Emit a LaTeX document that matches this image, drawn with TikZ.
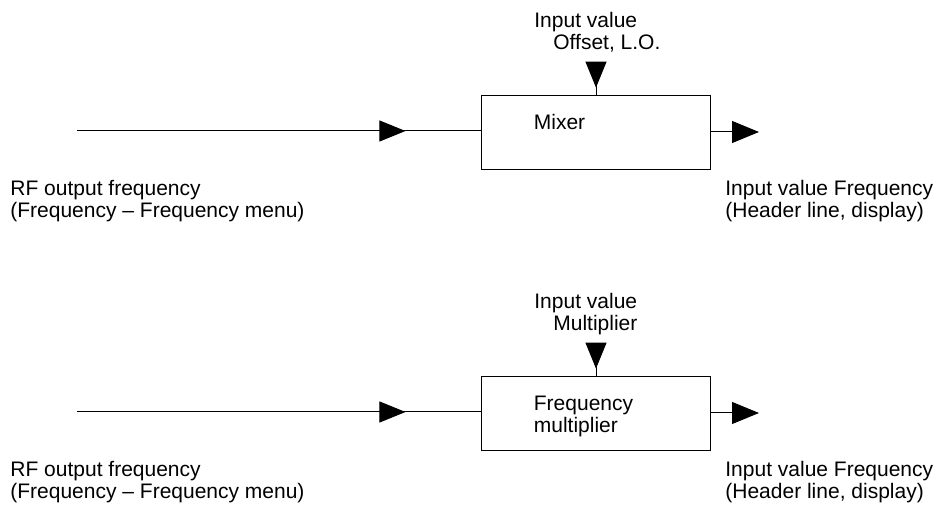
\documentclass[tikz,border=0pt]{standalone}
\usepackage{fontspec}
\setmainfont{Liberation Sans}
\usetikzlibrary{positioning, arrows.meta, decorations.markings}

\tikzset{
  blk/.style={draw, line width=0.5pt, minimum width=114.5pt, minimum height=37pt, inner sep=0pt},
  lbl/.style={inner sep=0pt, align=left, anchor=north west, font=\fontsize{10.5}{11}\selectfont},
  wire/.style={line width=0.5pt},
  outarrow/.style={-{Triangle[length=13.5pt, width=11pt]}},
  midtip/.style={postaction={decorate}, decoration={markings,
      mark=at position #1 with {\arrow{Triangle[length=13pt, width=10.5pt]}}}},
}

\begin{document}
\begin{tikzpicture}[x=0.5pt, y=-0.5pt]
  \useasboundingbox (0,0) rectangle (937,506);

  % Mixer
  \node[blk] (mixer) at (595.5,133) {};
  \node[lbl] (mixtxt) at ([xshift=26.5pt, yshift=-9pt]mixer.north west) {Mixer};
  \coordinate (rf1) at (77,131);
  \coordinate (lo1) at (596,62);
  \coordinate (if1) at (759,132);
  \draw[wire, midtip=0.814] (rf1) -- (rf1 -| mixer.west);
  \draw[wire, midtip=0.765] (lo1) -- (lo1 |- mixer.north);
  \draw[wire, outarrow] (mixer.east |- if1) -- (if1);
  \node[lbl] (lo1txt) at (534,12) {Input value\\\hspace*{9.5pt}Offset, L.O.};
  \node[lbl] (rf1txt) at (10,180) {RF output frequency\\(Frequency – Frequency menu)};
  \node[lbl] (if1txt) at (725,180) {Input value Frequency\\(Header line, display)};

  % Frequency multiplier
  \node[blk] (mult) at (595.5,414) {};
  \node[lbl] (multtxt) at ([xshift=26.5pt, yshift=-9.5pt]mult.north west) {Frequency\\multiplier};
  \coordinate (rf2) at (77,412);
  \coordinate (lo2) at (596,343);
  \coordinate (if2) at (759,413);
  \draw[wire, midtip=0.814] (rf2) -- (rf2 -| mult.west);
  \draw[wire, midtip=0.765] (lo2) -- (lo2 |- mult.north);
  \draw[wire, outarrow] (mult.east |- if2) -- (if2);
  \node[lbl] (lo2txt) at (534,293) {Input value\\\hspace*{9.5pt}Multiplier};
  \node[lbl] (rf2txt) at (10,461) {RF output frequency\\(Frequency – Frequency menu)};
  \node[lbl] (if2txt) at (725,461) {Input value Frequency\\(Header line, display)};
\end{tikzpicture}
\end{document}
